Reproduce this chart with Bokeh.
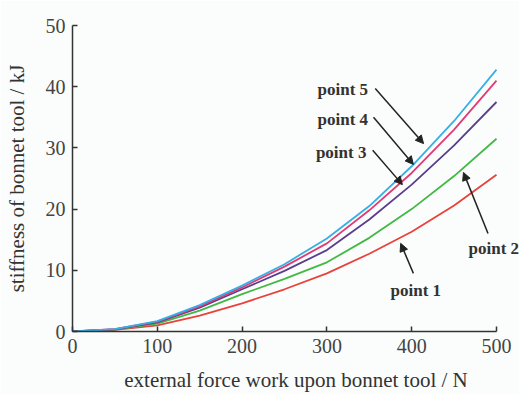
from bokeh.plotting import figure
from bokeh.models import Range1d, Label, Arrow, NormalHead, FixedTicker
from bokeh.embed import file_html
from bokeh.resources import INLINE

# data
force = [0, 50, 100, 150, 200, 250, 300, 350, 400, 450, 500]
point1 = [0, 0.25, 1.0, 2.6, 4.6, 6.9, 9.5, 12.7, 16.3, 20.6, 25.6]
point2 = [0, 0.3, 1.3, 3.4, 6.1, 8.6, 11.3, 15.3, 20.0, 25.4, 31.5]
point3 = [0, 0.35, 1.5, 3.9, 6.9, 9.9, 13.3, 18.3, 24.0, 30.4, 37.5]
point4 = [0, 0.4, 1.6, 4.1, 7.2, 10.6, 14.4, 19.8, 25.9, 33.0, 41.0]
point5 = [0, 0.4, 1.7, 4.3, 7.5, 11.0, 15.2, 20.5, 27.0, 34.4, 42.8]
x_ticks = [0, 100, 200, 300, 400, 500]
y_ticks = [0, 10, 20, 30, 40, 50]

series = [
    ("point 1", point1, "#e8423a"),
    ("point 2", point2, "#43b845"),
    ("point 3", point3, "#5a3e8e"),
    ("point 4", point4, "#e23a72"),
    ("point 5", point5, "#36aee6"),
]

# annotation placement (label x, y ; arrow tail -> tip)
labels = {
    "point 5": ((289, 39.5), (357, 39.7), (414, 30.7)),
    "point 4": ((289, 34.6), (355, 35.0), (402, 27.3)),
    "point 3": ((287, 29.2), (354, 29.6), (389, 24.0)),
    "point 2": ((467, 13.6), (490, 16.0), (461, 26.0)),
    "point 1": ((375, 6.7), (402, 9.5), (387, 14.4)),
}

FONT = "Liberation Serif"

# frame extends to the right edge; x axis line is bounded to 0..500
x_end = 500 * (519 - 72) / (496 - 72)

p = figure(width=519, height=394, output_backend="svg", toolbar_location=None,
           x_range=Range1d(0, x_end), y_range=Range1d(0, 50),
           min_border_left=72, min_border_right=0, min_border_top=25, min_border_bottom=63)
p.background_fill_color = "#fbfdfc"
p.border_fill_color = "#fbfdfc"
p.outline_line_color = None
p.grid.visible = False

for name, ys, col in series:
    p.line(force, ys, line_color=col, line_width=1.8)

for ax in (p.xaxis[0], p.yaxis[0]):
    ax.axis_line_color = "#333333"
    ax.axis_line_width = 1.5
    ax.major_tick_line_color = "#333333"
    ax.major_tick_line_width = 1.5
    ax.major_tick_in = 5
    ax.major_tick_out = 0
    ax.minor_tick_line_color = None
    ax.major_label_text_font = FONT
    ax.major_label_text_font_size = "20px"
    ax.major_label_text_color = "#444444"
    ax.axis_label_text_font = FONT
    ax.axis_label_text_font_size = "21px"
    ax.axis_label_text_font_style = "normal"
    ax.axis_label_text_color = "#333333"

p.xaxis[0].bounds = (0, 500)
p.xaxis[0].ticker = FixedTicker(ticks=x_ticks)
p.yaxis[0].ticker = FixedTicker(ticks=y_ticks)
p.xaxis[0].axis_label = "external force work upon bonnet tool / N"
p.yaxis[0].axis_label = "stiffness of bonnet tool / kJ"
p.xaxis[0].major_label_standoff = 7
p.yaxis[0].major_label_standoff = 7
p.xaxis[0].axis_label_standoff = 12
p.yaxis[0].axis_label_standoff = 14

for name, (lab, tail, tip) in labels.items():
    p.add_layout(Label(x=lab[0], y=lab[1], text=name, text_font=FONT,
                       text_font_size="17px", text_font_style="bold",
                       text_color="#333333", text_baseline="middle"))
    p.add_layout(Arrow(x_start=tail[0], y_start=tail[1], x_end=tip[0], y_end=tip[1],
                       line_color="#222222", line_width=1.5,
                       end=NormalHead(size=8, fill_color="#222222", line_color="#222222")))

open("out.html", "w").write(file_html(p, INLINE))
